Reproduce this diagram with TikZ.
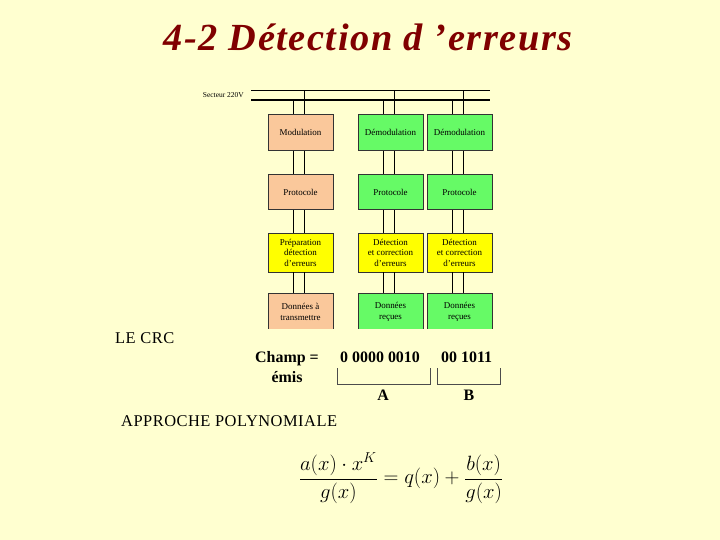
\documentclass[tikz,border=0pt]{standalone}
\usepackage{fontspec}
\setmainfont{Liberation Serif}
\usepackage{tikz}
\usetikzlibrary{positioning}
\definecolor{fondjaune}{RGB}{255,255,208}
\definecolor{titrerouge}{RGB}{128,0,0}
\definecolor{saumon}{RGB}{250,200,155}
\definecolor{vertclair}{RGB}{102,250,102}
\definecolor{jaunevif}{RGB}{255,255,0}

\begin{document}
\begin{tikzpicture}[x=1bp, y=-1bp,
    blocbox/.style={
      draw=black!80, line width=0.8bp, minimum width=65bp, minimum height=36bp,
      inner sep=1bp, align=center, font=\fontsize{9}{10.5}\selectfont
    },
    emet/.style={blocbox, fill=saumon},
    recep/.style={blocbox, fill=vertclair},
    detect/.style={blocbox, fill=jaunevif, minimum height=39bp},
    fil/.style={draw=black, line width=0.7bp},
    txt/.style={font=\fontsize{16.5}{20}\selectfont\addfontfeatures{LetterSpace=3}, inner sep=0pt},
    txtgras/.style={font=\fontsize{16}{20}\selectfont\bfseries, inner sep=0pt},
  ]
    \fill[fondjaune] (0,0) rectangle (720,540);
    \useasboundingbox (0,0) rectangle (720,540);

    \node[font=\fontsize{38.5}{42}\selectfont\bfseries\itshape\addfontfeatures{LetterSpace=4},
      text=titrerouge, anchor=base, inner sep=0pt] (titre) at (368,51)
      {4-2 Détection d ’erreurs};

    \node[font=\fontsize{7.5}{9}\selectfont, anchor=east, inner sep=0pt]
      (secteur) at (244,95) {Secteur 220V};
    \coordinate (fin-g) at (251,90);
    \coordinate (fin-d) at (490,90);
    \coordinate (fort-g) at (251,100);
    \coordinate (fort-d) at (490,100);
    \draw[line width=0.7bp] (fin-g) -- (fin-d);
    \draw[line width=1.8bp] (fort-g) -- (fort-d);

    \node[emet] (mod) at (300.5,132.5) {Modulation};
    \node[recep] (demodA) at (390.5,132.5) {Démodulation};
    \node[recep] (demodB) at (459.5,132.5) {Démodulation};

    \node[emet, minimum height=35bp] (protoE) at (300.5,192) {Protocole};
    \node[recep, minimum height=35bp] (protoA) at (390.5,192) {Protocole};
    \node[recep, minimum height=35bp] (protoB) at (459.5,192) {Protocole};

    \node[detect] (prep) at (300.5,252.5) {Préparation\\détection\\d’erreurs};
    \node[detect] (detA) at (390.5,252.5) {Détection\\et correction\\d’erreurs};
    \node[detect] (detB) at (459.5,252.5) {Détection\\et correction\\d’erreurs};

    \begin{scope}
      \clip (0,0) rectangle (720,328);
      \node[emet, minimum height=38bp] (donE) at (300.5,312) {Données à\\transmettre};
      \node[recep, minimum height=38bp] (donA) at (390.5,312) {Données\\reçues};
      \node[recep, minimum height=38bp] (donB) at (459.5,312) {Données\\reçues};
    \end{scope}

    \foreach \b in {mod, demodA, demodB} {
      \draw[fil] ([xshift=4bp]\b.north) -- ([xshift=4bp]\b.north |- fin-g);
      \draw[fil] ([xshift=-7bp]\b.north) -- ([xshift=-7bp]\b.north |- fort-g);
    }
    \foreach \h/\t in {mod/protoE, demodA/protoA, demodB/protoB,
                      protoE/prep, protoA/detA, protoB/detB,
                      prep/donE, detA/donA, detB/donB} {
      \draw[fil] ([xshift=4bp]\h.south) -- ([xshift=4bp]\t.north);
      \draw[fil] ([xshift=-7bp]\h.south) -- ([xshift=-7bp]\t.north);
    }

    \node[txt, anchor=west] (crc) at (115,338) {LE CRC};
    \node[txtgras, align=center] (champ) at (287,367) {Champ =\\émis};
    \node[txtgras, anchor=west] (bitsA) at (340,357) {0 0000 0010};
    \node[txtgras, anchor=west] (bitsB) at (441,357) {00 1011};
    \draw[black!70, line width=0.8bp] (337,368) |- (430,384) -- (430,368);
    \draw[black!70, line width=0.8bp] (437,368) |- (500,384) -- (500,368);
    \node[txtgras] (partA) at (383,395) {A};
    \node[txtgras] (partB) at (469,395) {B};

    \node[txt, anchor=west] (approche) at (121,421) {APPROCHE POLYNOMIALE};
    \node[font=\fontsize{20}{24}\selectfont, inner sep=0pt] (formule) at (401,478)
      {$\displaystyle \frac{a(x)\cdot x^K}{g(x)} = q(x) + \frac{b(x)}{g(x)}$};
  \end{tikzpicture}
\end{document}
